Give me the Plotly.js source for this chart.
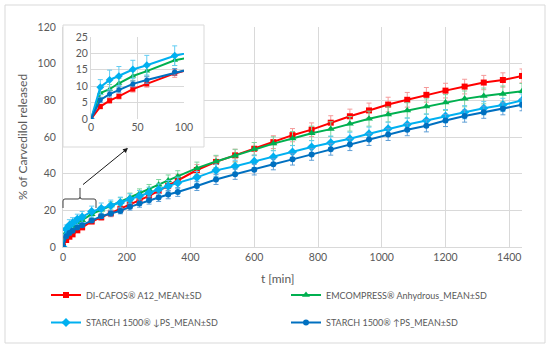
<!DOCTYPE html>
<html>
<head>
<meta charset="utf-8">
<script src="https://cdn.plot.ly/plotly-3.0.1.min.js"></script>
<style>html,body{margin:0;padding:0;background:#fff;}#chart{width:550px;height:351px;}</style>
</head>
<body>
<div id="chart"></div>
<script>
// ---- data ----
const timeMin = [0,10,20,30,45,60,90,120,150,180,210,240,270,300,330,360,420,480,540,600,660,720,780,840,900,960,1020,1080,1140,1200,1260,1320,1380,1440];

const diCafosMean = [0,3.8,5.6,6.9,9.1,10.7,13.9,16.2,18.3,20.8,23.2,25.4,27.9,30.6,33.4,36.6,42.0,46.4,50.0,53.6,57.2,61.0,64.0,67.8,71.3,74.5,77.7,80.3,83.0,85.3,87.5,89.7,91.1,93.3];
const diCafosSD   = [0,0.7,0.8,0.8,0.9,1.0,1.2,1.5,1.8,2.0,2.2,2.3,2.5,2.6,2.7,2.8,3.0,3.2,3.3,3.4,3.5,3.6,3.7,3.8,3.9,4.0,4.0,4.0,4.0,4.0,4.0,3.9,3.9,3.8];

const emcompressMean = [0,7.9,9.1,10.9,13.1,14.6,17.9,20.3,22.7,24.7,27.0,29.2,31.4,34.0,36.3,38.5,43.0,46.6,49.8,53.4,56.4,59.2,62.0,64.3,67.2,70.0,72.3,74.5,76.6,78.8,80.8,82.4,83.5,84.9];
const emcompressSD   = [0,1.3,1.4,1.5,1.5,1.5,1.6,1.8,2.0,2.2,2.4,2.5,2.7,2.8,3.0,3.1,3.3,3.4,3.5,3.6,3.7,3.8,3.9,4.0,4.0,4.1,4.1,4.2,4.2,4.3,4.3,4.3,4.3,4.3];

const starchLowMean = [0,9.7,11.9,13.1,15.1,16.4,19.3,21.0,22.6,24.2,26.0,27.8,29.6,31.4,33.2,35.0,38.0,41.8,44.0,46.7,49.1,51.8,54.5,56.9,59.0,61.8,64.5,66.8,69.0,71.4,73.5,75.7,77.5,79.9];
const starchLowSD   = [0,2.3,3.0,2.9,2.8,3.0,3.0,3.0,3.0,3.0,3.0,3.0,3.0,3.0,3.1,3.1,3.2,3.3,3.3,3.4,3.4,3.5,3.5,3.6,3.6,3.6,3.6,3.6,3.6,3.6,3.6,3.6,3.6,3.6];

const starchHighMean = [0,5.8,7.6,8.9,10.7,11.9,14.4,16.8,18.3,19.7,21.9,23.7,25.5,27.0,28.6,30.0,33.3,36.8,39.7,42.2,45.1,47.8,50.5,53.3,55.9,58.7,61.4,64.0,66.1,69.0,71.4,73.5,75.4,77.6];
const starchHighSD   = [0,0.8,0.9,0.9,0.9,1.0,1.0,1.2,1.4,1.6,1.8,2.0,2.1,2.2,2.3,2.4,2.5,2.7,2.8,2.9,3.0,3.1,3.2,3.2,3.3,3.3,3.3,3.3,3.3,3.3,3.3,3.3,3.3,3.3];

const seriesNames = ["DI-CAFOS\u00ae A12_MEAN\u00b1SD", "EMCOMPRESS\u00ae Anhydrous_MEAN\u00b1SD", "STARCH 1500\u00ae \u2193PS_MEAN\u00b1SD", "STARCH 1500\u00ae \u2191PS_MEAN\u00b1SD"];
const mainXTicks = [0,200,400,600,800,1000,1200,1400];
const insetXTicks = [0,50,100];

// ---- styling ----
const FONT = "Lato, 'Liberation Sans', sans-serif";
const GREY = "#595959";
const GRID = "#d9d9d9";
const styles = [
  {color:"#ff0000", err:"#f59a9a", symbol:"square", size:6},
  {color:"#00b050", err:"#7fd49f", symbol:"triangle-up", size:7},
  {color:"#00b0f0", err:"#62cdf3", symbol:"diamond", size:7},
  {color:"#0070c0", err:"#5f9fd6", symbol:"circle", size:6}
];
const means = [diCafosMean, emcompressMean, starchLowMean, starchHighMean];
const sds = [diCafosSD, emcompressSD, starchLowSD, starchHighSD];
const legendIds = ["legend", "legend2", "legend3", "legend4"];
const legendPos = [[46, 295], [286, 295], [46, 322.5], [286, 322.5]]; // pixel anchors (layout only)

// pixel -> paper helpers (plot area: left 63, right 522, top 25, bottom 247)
const L = 63, R = 522, T = 25, B = 247;
const W = 550, H = 351;
const px = v => (v - L) / (R - L);
const py = v => (B - v) / (B - T);

const traces = [];
means.forEach((m, i) => {
  traces.push({
    type: "scatter", mode: "lines+markers", x: timeMin, y: m,
    name: seriesNames[i], legend: legendIds[i],
    line: {color: styles[i].color, width: 2},
    marker: {color: styles[i].color, symbol: styles[i].symbol, size: styles[i].size},
    error_y: {type: "data", array: sds[i], visible: true, color: styles[i].err, thickness: 1, width: 2.5},
    xaxis: "x", yaxis: "y", hoverinfo: "skip"
  });
});
// empty trace that creates the white inset-box subplot
traces.push({type: "scatter", x: [], y: [], xaxis: "x2", yaxis: "y2", showlegend: false, hoverinfo: "skip"});
means.forEach((m, i) => {
  traces.push({
    type: "scatter", mode: "lines+markers", x: timeMin, y: m,
    showlegend: false,
    line: {color: styles[i].color, width: 2},
    marker: {color: styles[i].color, symbol: styles[i].symbol, size: styles[i].size - 1},
    error_y: {type: "data", array: sds[i], visible: true, color: styles[i].err, thickness: 1, width: 2.5},
    xaxis: "x3", yaxis: "y3", hoverinfo: "skip"
  });
});

function bracketPath() {
  const pts = [
    ["M",63,208],["L",63,201],["Q",63,199,65,199],["L",78,199],["Q",80,199,80,197],["L",80,188],
    ["M",80,197],["Q",80,199,82,199],["L",94,199],["Q",96,199,96,201],["L",96,208]
  ];
  return pts.map(p => {
    let s = p[0];
    for (let k = 1; k < p.length; k += 2) s += (k > 1 ? " " : "") + px(p[k]).toFixed(5) + "," + py(p[k+1]).toFixed(5);
    return s;
  }).join(" ");
}

const tickFont = {family: FONT, size: 10.5, color: GREY};
const layout = {
  width: W, height: H,
  margin: {l: L, r: W - R, t: T, b: H - B, autoexpand: false},
  paper_bgcolor: "#fff", plot_bgcolor: "#fff",
  showlegend: true,
  font: {family: FONT, color: GREY},
  xaxis: {domain: [0, 1], range: [0, 1440], tickvals: mainXTicks, showgrid: true, gridcolor: GRID, gridwidth: 1,
          zeroline: false, showline: true, linecolor: GRID, ticks: "", tickfont: tickFont, fixedrange: true},
  yaxis: {domain: [0, py(27)], range: [0, 120], dtick: 20, showgrid: true, gridcolor: GRID, zeroline: false,
          showline: true, linecolor: GRID, ticks: "", tickfont: tickFont, ticklabelstandoff: 4, fixedrange: true},
  xaxis2: {domain: [px(63), px(204)], range: [0, 1], anchor: "y2", visible: false, fixedrange: true},
  yaxis2: {domain: [py(147), 1], range: [0, 1], anchor: "x2", visible: false, fixedrange: true},
  xaxis3: {domain: [px(91), px(184)], range: [0, 100], tickvals: insetXTicks, anchor: "y3", showgrid: true, gridcolor: GRID,
           zeroline: false, showline: false, ticks: "", tickfont: tickFont, fixedrange: true},
  yaxis3: {domain: [py(119), py(37)], range: [0, 25], dtick: 5, anchor: "x3", showgrid: true, gridcolor: GRID,
           zeroline: false, showline: true, linecolor: GRID, ticks: "", tickfont: tickFont, fixedrange: true},
  shapes: [
    {type: "rect", xref: "x2", yref: "y2", x0: 0, x1: 1, y0: 0, y1: 1, layer: "below", fillcolor: "#fff", line: {width: 0}},
    {type: "rect", xref: "paper", yref: "paper", x0: px(63), x1: px(204), y0: py(147), y1: py(25), layer: "above",
     fillcolor: "rgba(0,0,0,0)", line: {color: GRID, width: 1}},
    {type: "rect", xref: "paper", yref: "paper", x0: px(5), x1: px(545), y0: py(343), y1: py(5), layer: "below",
     fillcolor: "rgba(0,0,0,0)", line: {color: GRID, width: 1}},
    {type: "path", xref: "paper", yref: "paper", path: bracketPath(), line: {color: "#404040", width: 1}, layer: "above"}
  ],
  annotations: [
    {text: "% of Carvedilol released", xref: "paper", yref: "paper", x: px(22), y: py(137), textangle: -90, showarrow: false,
     font: {family: FONT, size: 12, color: GREY}, xanchor: "center", yanchor: "middle"},
    {text: "t [min]", xref: "paper", yref: "paper", x: px(278), y: py(278), showarrow: false,
     font: {family: FONT, size: 12, color: GREY}, xanchor: "center", yanchor: "middle"},
    {text: " ", xref: "paper", yref: "paper", x: px(128), y: py(148), showarrow: true, ax: -48, ay: 39,
     arrowhead: 2, arrowsize: 1, arrowwidth: 1, arrowcolor: "#1a1a1a"}
  ]
};
legendIds.forEach((id, i) => {
  layout[id] = {orientation: "h", x: px(legendPos[i][0]), xanchor: "left", y: py(legendPos[i][1]), yanchor: "middle",
                itemwidth: 30, font: {family: FONT, size: 9, color: GREY}, bgcolor: "rgba(0,0,0,0)"};
});

Plotly.newPlot("chart", traces, layout, {staticPlot: true, displayModeBar: false});
</script>
</body>
</html>
